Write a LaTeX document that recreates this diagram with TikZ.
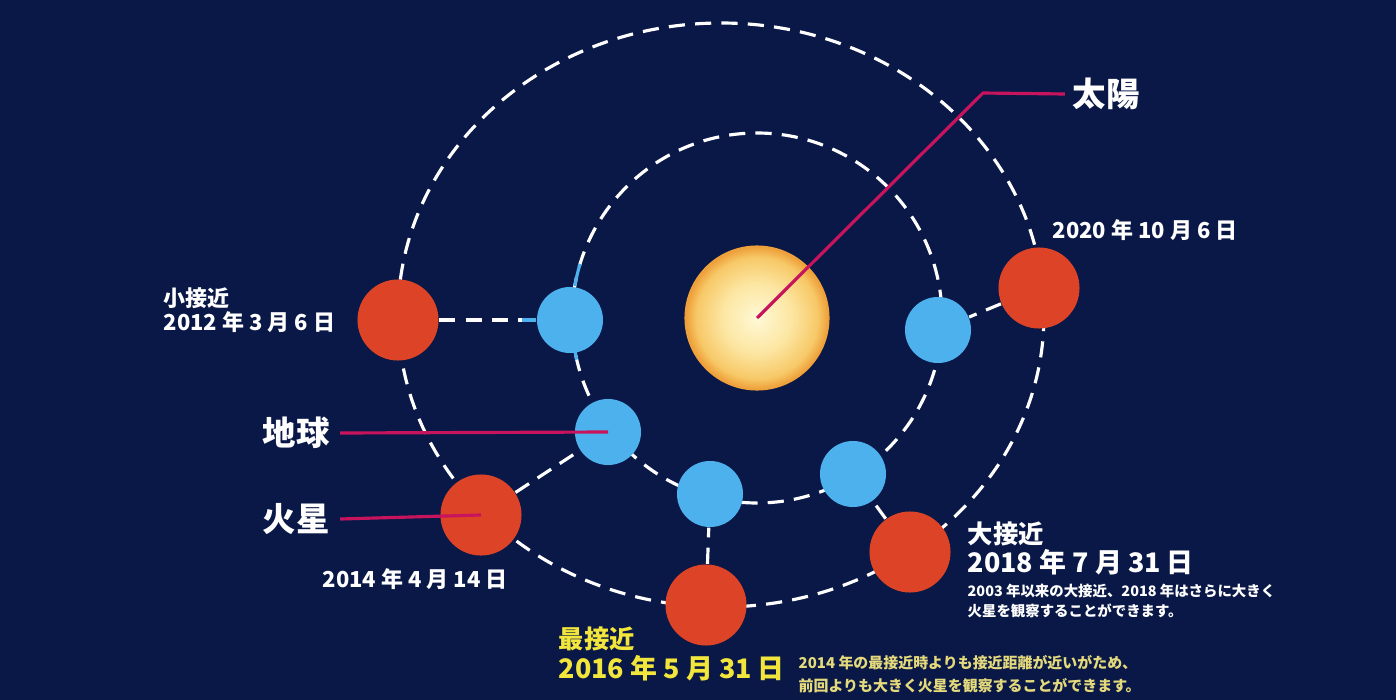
\documentclass[tikz,border=0pt]{standalone}
\usepackage{fontspec}
\setmainfont{Noto Sans CJK JP}
\usetikzlibrary{positioning}

\definecolor{night}{HTML}{0A1847}
\definecolor{marsred}{HTML}{DC4327}
\definecolor{earthblue}{HTML}{4DB1EE}
\definecolor{sunin}{HTML}{FFF9D6}
\definecolor{sunmid}{HTML}{FCE6A2}
\definecolor{sunrim}{HTML}{F7C867}
\definecolor{sunout}{HTML}{EEA03A}
\definecolor{pinkred}{HTML}{C8145C}
\definecolor{gold}{HTML}{F2E53C}
\definecolor{paleyellow}{HTML}{E4DA7C}

\pgfdeclareradialshading{sunglow}{\pgfpoint{0bp}{0bp}}{
	color(0bp)=(sunin); color(12bp)=(sunmid); color(21bp)=(sunrim);
	color(24.5bp)=(sunout); color(50bp)=(sunout)}

\tikzset{
	orbit/.style={white, line width=.9pt, dash pattern=on 4.6pt off 2.9pt},
	mars/.style={circle, fill=marsred, minimum size=.81cm, inner sep=0},
	earth/.style={circle, fill=earthblue, minimum size=.66cm, inner sep=0},
	pointer/.style={draw=pinkred, line width=.9pt},
	lbl/.style={text=white, inner sep=0, anchor=west},
	big/.style={font=\bfseries\fontsize{9.5pt}{11pt}\selectfont},
	date/.style={font=\bfseries\fontsize{6.25pt}{8pt}\selectfont},
	head/.style={font=\bfseries\fontsize{7.2pt}{9pt}\selectfont},
	bigdate/.style={font=\bfseries\fontsize{7.65pt}{9pt}\selectfont},
	note/.style={font=\bfseries\fontsize{4.1pt}{5pt}\selectfont},
}

\begin{document}
\begin{tikzpicture}[x=.01cm, y=-.01cm]
	\fill[night] (0,0) rectangle (1396,700);
	\useasboundingbox (0,0) rectangle (1396,700);

	% orbits
	\draw[orbit] (757,318) circle [radius=185];
	\draw[orbit] (721,315) ellipse [x radius=323, y radius=292];

	\node[circle, minimum size=1.45cm, inner sep=0, shading=sunglow] (sun) at (757,318) {};

	% oppositions: Mars and Earth of each year
	\foreach \yr/\mx/\my/\ex/\ey in {12/398/320/570/320, 14/481/515/608/432, 16/706/605/710/494, 18/910/552/853/474, 20/1039/288/938/330} {
		\node[mars] (m\yr) at (\mx,\my) {};
		\node[earth] (e\yr) at (\ex,\ey) {};
		\draw[orbit] (m\yr) -- (e\yr);
	}
	\draw[earthblue, line width=.9pt] (e12.west) -- ++(-14,0);
	\draw[earthblue, line width=.9pt] (sun.center) ++(-163:185) arc [start angle=-163, end angle=-170, radius=185];
	\draw[earthblue, line width=.9pt] (sun.center) ++(170:185) arc [start angle=170, end angle=167, radius=185];

	% names
	\node[lbl, big] (lblSun) at (1072,94) {太陽};
	\node[lbl, big] (lblEarth) at (262,433) {地球};
	\node[lbl, big] (lblMars) at (262,519) {火星};
	\coordinate (bend) at (983,93);
	\draw[pointer] (sun.center) -- (bend) -- ([xshift=-2pt]lblSun.west);
	\draw[pointer] (lblEarth.east) ++(10,0) -- (e14.center);
	\draw[pointer] (lblMars.east) ++(10,0) -- (m14.center);

	% dates
	\node[lbl, date] (lbl12a) at (163,298) {小接近};
	\node[lbl, date] (lbl12b) at (163,322) {2012 年 3 月 6 日};
	\node[lbl, date] (lbl14) at (322,579) {2014 年 4 月 14 日};
	\node[lbl, date] (lbl20) at (1052,230) {2020 年 10 月 6 日};
	\node[lbl, head] (lbl18a) at (967,534) {大接近};
	\node[lbl, bigdate] (lbl18b) at (967,562) {2018 年 7 月 31 日};
	\node[lbl, note] (note18a) at (967,591) {2003 年以来の大接近、2018 年はさらに大きく};
	\node[lbl, note] (note18b) at (967,611) {火星を観察することができます。};
	\node[lbl, head, text=gold] (lbl16a) at (558,639) {最接近};
	\node[lbl, bigdate, text=gold] (lbl16b) at (558,668) {2016 年 5 月 31 日};
	\node[lbl, note, font=\bfseries\fontsize{4.25pt}{5pt}\selectfont, text=paleyellow] (note16a) at (798,663) {2014 年の最接近時よりも接近距離が近いがため、};
	\node[lbl, note, font=\bfseries\fontsize{4.25pt}{5pt}\selectfont, text=paleyellow] (note16b) at (798,686) {前回よりも大きく火星を観察することができます。};
\end{tikzpicture}
\end{document}
